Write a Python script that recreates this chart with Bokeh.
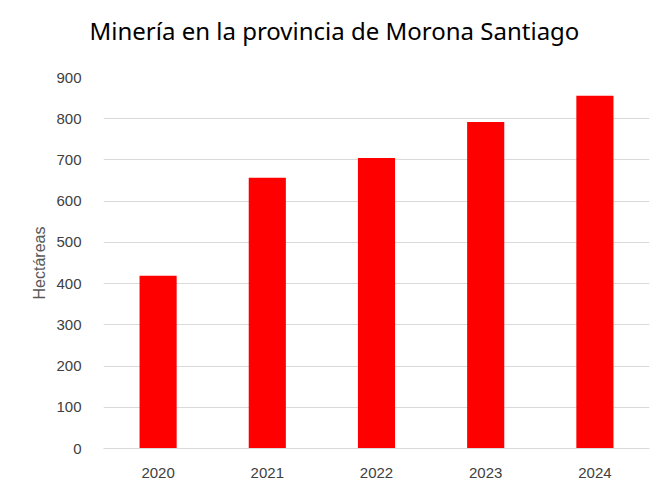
from bokeh.plotting import figure
from bokeh.models import Range1d, FactorRange, SingleIntervalTicker, CategoricalAxis, Title
from bokeh.embed import file_html
from bokeh.resources import INLINE

years = ["2020", "2021", "2022", "2023", "2024"]
hectareas = [419, 657, 705, 792, 856]
title_text = "Minería en la provincia de Morona Santiago"
y_label = "Hectáreas"

p = figure(width=671, height=496, x_range=FactorRange(*years), y_range=Range1d(0, 900),
           output_backend="svg", toolbar_location=None)
p.min_border_left = 103
p.min_border_right = 22
p.min_border_top = 77
p.min_border_bottom = 48
p.outline_line_color = None

p.vbar(x=years, top=hectareas, width=0.34, color="#FF0000", line_color=None)

# invisible spacer axis between the frame and the title (no labels, no lines)
spacer = CategoricalAxis(axis_line_color=None, major_tick_line_color=None,
                         minor_tick_line_color=None, major_tick_out=26, major_tick_in=0,
                         minor_tick_out=0, major_label_standoff=0,
                         major_label_text_color=None)
p.add_layout(spacer, "above")

title = Title(text=title_text, text_font="Noto Sans", text_font_size="24px",
              text_font_style="normal", text_color="#000000",
              align="left", offset=-14, standoff=10)
p.add_layout(title, "above")

p.yaxis.ticker = SingleIntervalTicker(interval=100)
p.yaxis.axis_line_color = None
p.yaxis.major_tick_line_color = None
p.yaxis.major_tick_out = 0
p.yaxis.major_tick_in = 0
p.yaxis.minor_tick_line_color = None
p.yaxis.major_label_text_font = "Liberation Sans"
p.yaxis.major_label_text_font_size = "15px"
p.yaxis.major_label_text_color = "#404040"
p.yaxis.major_label_standoff = 18
p.yaxis.axis_label = y_label
p.yaxis.axis_label_text_font = "Liberation Sans"
p.yaxis.axis_label_text_font_size = "16px"
p.yaxis.axis_label_text_font_style = "normal"
p.yaxis.axis_label_text_color = "#595959"
p.yaxis.axis_label_standoff = 5

xa = p.below[0]
xa.axis_line_color = "#d9d9d9"
xa.major_tick_line_color = None
xa.major_tick_out = 0
xa.major_tick_in = 0
xa.minor_tick_line_color = None
xa.major_label_text_font = "Liberation Sans"
xa.major_label_text_font_size = "15px"
xa.major_label_text_color = "#404040"
xa.major_label_standoff = 19

p.xgrid.grid_line_color = None
p.ygrid.grid_line_color = "#d9d9d9"
p.ygrid.grid_line_width = 1

open("out.html", "w").write(file_html(p, INLINE))
